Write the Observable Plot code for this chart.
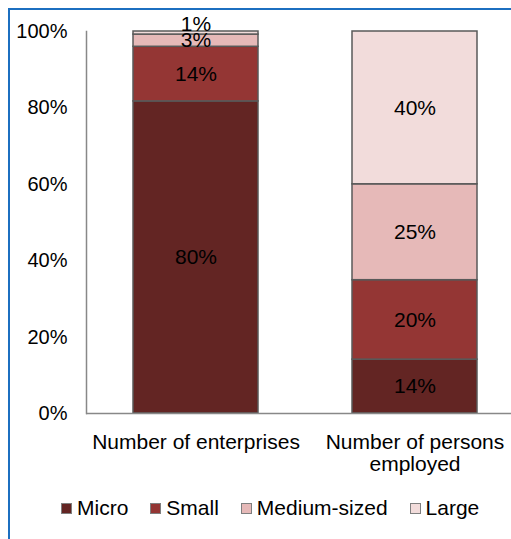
<!DOCTYPE html>
<html>
<head>
<meta charset="utf-8">
<script src="https://cdn.jsdelivr.net/npm/d3@7"></script>
<script src="https://cdn.jsdelivr.net/npm/@observablehq/plot@0.6"></script>
<style>
  html, body { margin: 0; padding: 0; background: #fff; width: 511px; height: 539px; overflow: hidden; }
  body { position: relative; font-family: "Liberation Sans", Arial, sans-serif; }
  #frame { position: absolute; left: 8px; top: 8px; width: 600px; height: 600px;
           border-left: 2px solid #1c6fc0; border-top: 2px solid #1c6fc0; }
  #chart { position: absolute; left: 0; top: 0; width: 530px; }
  #chart svg { max-width: none !important; }
  #legend { position: absolute; left: 61px; top: 496px; display: flex; align-items: center;
            gap: 22px; font-size: 21px; color: #000; white-space: nowrap; }
  .item { display: flex; align-items: center; }
  .sw { width: 9px; height: 9px; border: 1px solid #7f7f7f; margin-right: 5px; }
</style>
</head>
<body>
<div id="frame"></div>
<div id="chart"></div>
<div id="legend"></div>
<script>
const categories = ["Number of enterprises", "Number of persons employed"];
const tickLabels = ["Number of enterprises", "Number of persons\nemployed"];
const sizes = ["Micro", "Small", "Medium-sized", "Large"];
const colors = ["#632523", "#943634", "#e6b9b8", "#f2dcdb"];
const enterprisesValues = [81.7, 14.3, 3.2, 0.8];
const enterprisesLabels = ["80%", "14%", "3%", "1%"];
const personsValues = [14.1, 20.8, 25.1, 40.0];
const personsLabels = ["14%", "20%", "25%", "40%"];
const yTicks = [0, 20, 40, 60, 80, 100];

const data = [];
sizes.forEach((s, i) => data.push({cat: categories[0], size: s, value: enterprisesValues[i], label: enterprisesLabels[i]}));
sizes.forEach((s, i) => data.push({cat: categories[1], size: s, value: personsValues[i], label: personsLabels[i]}));

const font = "Liberation Sans, Arial, sans-serif";
const tiny = d => d.value < 1.5;
const chart = Plot.plot({
  width: 530,
  height: 504,
  marginLeft: 86,
  marginRight: 6,
  marginTop: 31,
  marginBottom: 91,
  style: {fontFamily: font, fontSize: "20px", color: "#000", background: "transparent", overflow: "visible", maxWidth: "none"},
  x: {domain: categories, paddingInner: 0.429, paddingOuter: 0.2145, label: null},
  y: {domain: [0, 100], label: null},
  color: {domain: sizes, range: colors},
  marks: [
    Plot.barY(data, Plot.stackY({x: "cat", y: "value", z: "size", fill: "size", stroke: "#595959", strokeWidth: 1.5})),
    Plot.text(data, Plot.stackY({x: "cat", y: "value", z: "size", text: d => tiny(d) ? null : d.label, fill: "#000", fontSize: 21})),
    Plot.text(data, Plot.stackY2({x: "cat", y: "value", z: "size", text: d => tiny(d) ? d.label : null, fill: "#000", fontSize: 21, dy: -7})),
    Plot.ruleY([0], {stroke: "#888888", strokeWidth: 1.5}),
    Plot.frame({anchor: "left", stroke: "#888888", strokeWidth: 1.5}),
    Plot.axisY(yTicks, {tickSize: 0, tickPadding: 19, tickFormat: d => d + "%", fontSize: 20, label: null}),
    Plot.axisX({tickSize: 0, tickPadding: 20, tickFormat: (d, i) => tickLabels[categories.indexOf(d)], fontSize: 21, lineHeight: 1.05, label: null})
  ]
});
document.getElementById("chart").appendChild(chart);

const legend = document.getElementById("legend");
sizes.forEach((s, i) => {
  const item = document.createElement("div");
  item.className = "item";
  const sw = document.createElement("div");
  sw.className = "sw";
  sw.style.background = colors[i];
  const t = document.createElement("span");
  t.textContent = s;
  item.appendChild(sw);
  item.appendChild(t);
  legend.appendChild(item);
});
</script>
</body>
</html>
